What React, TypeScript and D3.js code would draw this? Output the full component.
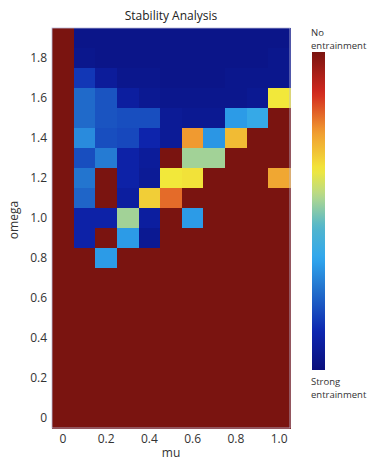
import * as d3 from 'd3';

// mu along x, omega along y
const muLabels = ['0', '0.1', '0.2', '0.3', '0.4', '0.5', '0.6', '0.7', '0.8', '0.9', '1.0'];
const omegaLabels = ['0', '0.1', '0.2', '0.3', '0.4', '0.5', '0.6', '0.7', '0.8', '0.9',
  '1.0', '1.1', '1.2', '1.3', '1.4', '1.5', '1.6', '1.7', '1.8', '1.9'];
const xTicks = ['0', '0.2', '0.4', '0.6', '0.8', '1.0'];
const yTicks = ['0', '0.2', '0.4', '0.6', '0.8', '1.0', '1.2', '1.4', '1.6', '1.8'];

// stability index (0 = strong entrainment, 1 = none), one row per omega, top row first
const row19 = [1, 0.03, 0.03, 0.03, 0.03, 0.03, 0.03, 0.03, 0.03, 0.03, 0.03];
const row18 = [1, 0.04, 0.03, 0.03, 0.03, 0.03, 0.03, 0.03, 0.03, 0.03, 0.04];
const row17 = [1, 0.15, 0.07, 0.04, 0.04, 0.03, 0.03, 0.03, 0.04, 0.04, 0.04];
const row16 = [1, 0.24, 0.2, 0.08, 0.05, 0.04, 0.04, 0.04, 0.04, 0.05, 0.63];
const row15 = [1, 0.24, 0.2, 0.19, 0.19, 0.06, 0.05, 0.05, 0.33, 0.37, 1];
const row14 = [1, 0.3, 0.19, 0.18, 0.11, 0.06, 0.75, 0.32, 0.7, 1, 1];
const row13 = [1, 0.19, 0.27, 0.1, 0.07, 1, 0.53, 0.53, 1, 1, 1];
const row12 = [1, 0.26, 1, 0.1, 0.06, 0.63, 0.64, 1, 1, 1, 0.73];
const row11 = [1, 0.23, 1, 0.08, 0.67, 0.8, 1, 1, 1, 1, 1];
const row10 = [1, 0.1, 0.1, 0.53, 0.08, 1, 0.33, 1, 1, 1, 1];
const row09 = [1, 0.1, 1, 0.33, 0.05, 1, 1, 1, 1, 1, 1];
const row08 = [1, 1, 0.33, 1, 1, 1, 1, 1, 1, 1, 1];
const rowLow = [1, 1, 1, 1, 1, 1, 1, 1, 1, 1, 1];

const stabilityRows = [row19, row18, row17, row16, row15, row14, row13, row12, row11, row10,
  row09, row08, rowLow, rowLow, rowLow, rowLow, rowLow, rowLow, rowLow, rowLow];

// jet-like colormap, a bit muted like the printed figure
const cmapStops = [0, 0.12, 0.25, 0.35, 0.45, 0.55, 0.63, 0.75, 0.87, 1];
const cmapColors = ['#0a0f7c', '#0d26b0', '#2270cc', '#2fa6ee', '#52b6cc', '#b6d98a',
  '#f2e83a', '#f09a30', '#d3291f', '#7a1410'];

const color = d3.scaleLinear<string>()
  .domain(cmapStops)
  .range(cmapColors)
  .interpolate(d3.interpolateRgb);

const W = 380;
const H = 462;
const margin = { left: 52, top: 28, right: 90, bottom: 34 };
const plotW = 238;
const plotH = 400;

const font = '"Open Sans", "DejaVu Sans", sans-serif';

export default function App() {
  const x = d3.scaleBand().domain(muLabels).range([margin.left, margin.left + plotW]);
  const y = d3.scaleBand().domain(omegaLabels).range([margin.top + plotH, margin.top]);

  const cells: { mu: string; om: string; v: number }[] = [];
  stabilityRows.forEach((row, i) => {
    const om = omegaLabels[omegaLabels.length - 1 - i];
    row.forEach((v, j) => cells.push({ mu: muLabels[j], om, v }));
  });

  const cbX = 312;
  const cbW = 13;
  const cbTop = 52;
  const cbBottom = 370;
  const cb = d3.scaleLinear().domain([0, 1]).range([cbBottom, cbTop]);
  const gradStops = d3.range(0, 1.0001, 0.02);

  return (
    <div style={{ position: 'absolute', left: 0, top: 0 }}>
      <svg width={W} height={H} style={{ display: 'block', background: '#fff' }}>
        <defs>
          <linearGradient id="cbar" x1="0" y1="1" x2="0" y2="0">
            {gradStops.map(t => (
              <stop key={t} offset={`${t * 100}%`} stopColor={color(t)} />
            ))}
          </linearGradient>
        </defs>
        <text x={margin.left + plotW / 2} y={20} textAnchor="middle" fontFamily={font}
          fontSize={12} fill="#222">Stability Analysis</text>
        <g shapeRendering="crispEdges">
          {cells.map((c, i) => (
            <rect key={i} x={x(c.mu)} y={y(c.om)} width={x.bandwidth() + 0.5}
              height={y.bandwidth() + 0.5} fill={color(c.v)} />
          ))}
        </g>
        <rect x={margin.left} y={margin.top} width={plotW} height={plotH} fill="none"
          stroke="#b8b8d8" strokeWidth={0.8} />
        {yTicks.map(t => (
          <text key={t} x={47} y={(y(t) ?? 0) + y.bandwidth() / 2 + 4} textAnchor="end"
            fontFamily={font} fontSize={12} fill="#333">{t}</text>
        ))}
        {xTicks.map(t => (
          <text key={t} x={(x(t) ?? 0) + x.bandwidth() / 2} y={443} textAnchor="middle"
            fontFamily={font} fontSize={12} fill="#333">{t}</text>
        ))}
        <text x={margin.left + plotW / 2} y={457} textAnchor="middle" fontFamily={font}
          fontSize={12} fill="#333">mu</text>
        <text transform={`translate(18,${220}) rotate(-90)`} textAnchor="middle"
          fontFamily={font} fontSize={12} fill="#333">omega</text>
        <rect x={cbX} y={cb(1)} width={cbW} height={cb(0) - cb(1)} fill="url(#cbar)" />
        <text x={311} y={36} fontFamily={font} fontSize={9.5} fill="#333">No</text>
        <text x={311} y={49} fontFamily={font} fontSize={9.5} fill="#333">entrainment</text>
        <text x={311} y={385} fontFamily={font} fontSize={9.5} fill="#333">Strong</text>
        <text x={311} y={398} fontFamily={font} fontSize={9.5} fill="#333">entrainment</text>
      </svg>
    </div>
  );
}
